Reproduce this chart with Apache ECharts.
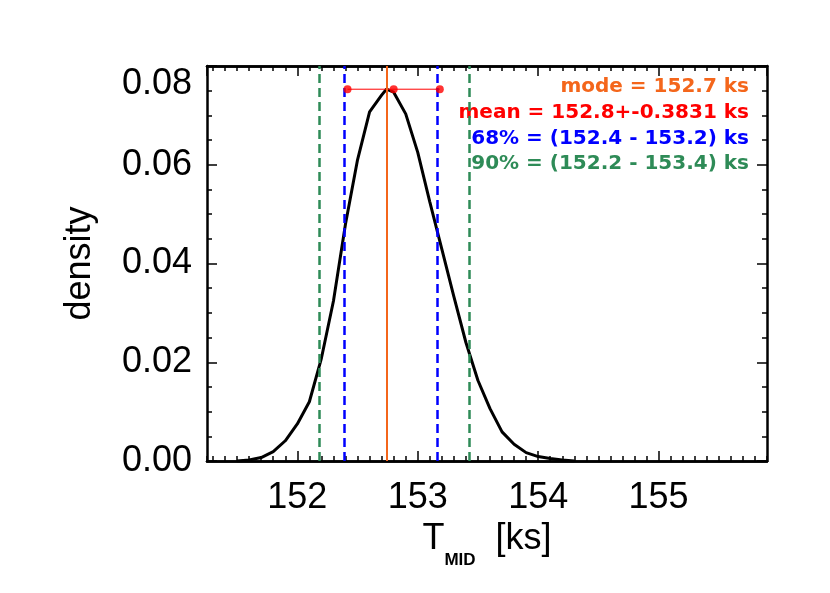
<!DOCTYPE html>
<html>
<head>
<meta charset="utf-8">
<title>T_MID density</title>
<script src="https://cdn.jsdelivr.net/npm/echarts@6/dist/echarts.min.js"></script>
<style>
	html, body { margin: 0; padding: 0; background: #fff; }
	#main { width: 830px; height: 593px; }
</style>
</head>
<body>
<div id="main"></div>
<script>
	// density curve (T_MID in ks)
	var tMid = [151.5, 151.6, 151.7, 151.8, 151.9, 152.0, 152.1, 152.2, 152.3, 152.4, 152.5, 152.6, 152.7, 152.74,
		152.8, 152.9, 153.0, 153.1, 153.2, 153.3, 153.4, 153.5, 153.6, 153.7, 153.8, 153.9, 154.0, 154.1, 154.2, 154.3];
	var density = [0.0000, 0.0002, 0.0007, 0.0019, 0.0041, 0.0075, 0.0120, 0.0208, 0.0324, 0.0480, 0.0610, 0.0707, 0.0741, 0.0753,
		0.0747, 0.0703, 0.0625, 0.0525, 0.0429, 0.0333, 0.0240, 0.0163, 0.0106, 0.0059, 0.0034, 0.0017, 0.0009, 0.0005, 0.0002, 0.0000];

	// summary statistics
	var modeVal = 152.74;
	var meanVal = 152.8;
	var meanErr = 0.3831;
	var peakDensity = 0.0753;
	var ci68 = [152.39, 153.16];
	var ci90 = [152.18, 153.43];

	var xRange = [151.25, 155.9];
	var yRange = [0, 0.08];

	var FONT = '"Liberation Sans", Arial, sans-serif';
	var ANNOT_FONT = '"DejaVu Sans", sans-serif';
	var ORANGE = '#f4661b', RED = '#ff0000', BLUE = '#0000ff', GREEN = '#2e8b57';

	var curve = [];
	for (var i = 0; i < tMid.length; i++) {
		curve.push([tMid[i], density[i]]);
	}

	var frameLine = { show: true, onZero: false, lineStyle: { color: '#000', width: 2.5 } };

	function xAxisDef(pos, major, labels) {
		return {
			type: 'value',
			position: pos,
			min: xRange[0],
			max: xRange[1],
			splitNumber: major ? 5 : 46,
			axisLine: frameLine,
			axisTick: { show: true, inside: true, length: major ? 10 : 5, lineStyle: { color: '#000', width: 1.5 } },
			axisLabel: {
				show: labels,
				showMinLabel: false,
				showMaxLabel: false,
				margin: 19,
				color: '#000',
				fontFamily: FONT,
				fontSize: 36
			},
			splitLine: { show: false }
		};
	}

	function yAxisDef(pos, labels) {
		return {
			type: 'value',
			position: pos,
			min: yRange[0],
			max: yRange[1],
			interval: 0.02,
			axisLine: frameLine,
			axisTick: { show: true, inside: true, length: 10, lineStyle: { color: '#000', width: 1.5 } },
			minorTick: { show: true, splitNumber: 4, length: 5, lineStyle: { color: '#000', width: 1.5 } },
			axisLabel: {
				show: labels,
				margin: 15,
				color: '#000',
				fontFamily: FONT,
				fontSize: 36,
				verticalAlignMaxLabel: 'top',
				formatter: function (v) { return v.toFixed(2); }
			},
			splitLine: { show: false }
		};
	}

	var xBottom = xAxisDef('bottom', true, true);
	xBottom.name = '{t|T}{s|MID}{t|  [ks]}';
	xBottom.nameLocation = 'middle';
	xBottom.nameGap = 46;
	xBottom.nameTextStyle = {
		color: '#000',
		rich: {
			t: { fontFamily: FONT, fontSize: 36, lineHeight: 44, color: '#000', verticalAlign: 'top' },
			// subscript: pushed below the baseline of the T
			s: { fontFamily: FONT, fontSize: 17, lineHeight: 17, fontWeight: 'bold', color: '#000', verticalAlign: 'top', padding: [31, 0, 0, 0] }
		}
	};

	var yLeft = yAxisDef('left', true);
	yLeft.name = 'density';
	yLeft.nameLocation = 'middle';
	yLeft.nameRotate = 90;
	yLeft.nameGap = 109;
	yLeft.nameTextStyle = { color: '#000', fontFamily: FONT, fontSize: 36 };

	function vline(x, color, dashed) {
		return {
			xAxis: x,
			lineStyle: { color: color, width: dashed ? 2.5 : 2, type: dashed ? [9, 5] : 'solid' }
		};
	}

	function annot(txt, color, top) {
		return {
			type: 'text',
			right: 81,
			top: top,
			style: { text: txt, fill: color, fontFamily: ANNOT_FONT, fontWeight: 'bold', fontSize: 20 }
		};
	}

	var option = {
		animation: false,
		backgroundColor: '#fff',
		grid: { left: 207, right: 63, top: 66, bottom: 132, containLabel: false, outerBoundsMode: 'none' },
		xAxis: [
			xBottom,
			xAxisDef('bottom', false, false),
			xAxisDef('top', true, false),
			xAxisDef('top', false, false)
		],
		yAxis: [
			yLeft,
			yAxisDef('right', false)
		],
		series: [
			{
				type: 'line',
				data: curve,
				showSymbol: false,
				symbol: 'none',
				lineStyle: { color: '#000', width: 3 },
				z: 2
			},
			{
				// credible intervals and mode
				type: 'line',
				data: [],
				z: 3,
				markLine: {
					silent: true,
					symbol: ['none', 'none'],
					label: { show: false },
					data: [
						vline(ci90[0], GREEN, true),
						vline(ci90[1], GREEN, true),
						vline(ci68[0], BLUE, true),
						vline(ci68[1], BLUE, true),
						vline(modeVal, ORANGE, false)
					]
				}
			},
			{
				// mean +- error
				type: 'line',
				data: [[meanVal - meanErr, peakDensity], [meanVal + meanErr, peakDensity]],
				symbol: 'none',
				lineStyle: { color: RED, width: 1 },
				z: 4
			},
			{
				type: 'scatter',
				data: [[meanVal - meanErr, peakDensity], [meanVal, peakDensity], [meanVal + meanErr, peakDensity]],
				symbolSize: 8,
				itemStyle: { color: RED },
				z: 5
			}
		],
		graphic: [
			annot('mode = ' + modeVal.toFixed(1) + ' ks', ORANGE, 77),
			annot('mean = ' + meanVal.toFixed(1) + '+-' + meanErr.toFixed(4) + ' ks', RED, 103),
			annot('68% = (' + ci68[0].toFixed(1) + ' - ' + ci68[1].toFixed(1) + ') ks', BLUE, 129),
			annot('90% = (' + ci90[0].toFixed(1) + ' - ' + ci90[1].toFixed(1) + ') ks', GREEN, 154)
		]
	};

	var chart = echarts.init(document.getElementById('main'), null, { renderer: 'canvas' });
	chart.setOption(option);
</script>
</body>
</html>
